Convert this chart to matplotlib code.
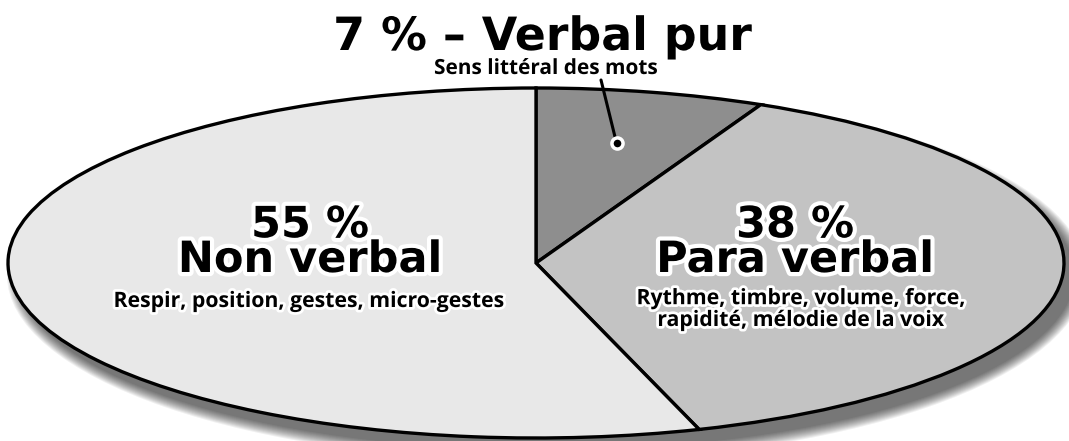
import matplotlib.pyplot as plt
import matplotlib.patheffects as pe
from matplotlib.patches import Ellipse
import numpy as np

W, H = 1069, 441

shares = [7, 38, 55]
colors = ['#8e8e8e', '#c3c3c3', '#e8e8e8']
pct_labels = ['7 %', '38 %', '55 %']
names = ['Verbal pur', 'Para verbal', 'Non verbal']
details = ['Sens littéral des mots',
           'Rythme, timbre, volume, force,\nrapidité, mélodie de la voix',
           'Respir, position, gestes, micro-gestes']

# ellipse box in pixels
cx, cy, rx, ry = 536, 263, 528, 175


def fx(px):
    return px / W


def fy(py):
    return 1 - py / H


fig = plt.figure(figsize=(W / 100, H / 100), dpi=100)
fig.patch.set_facecolor('white')
ax = fig.add_axes([fx(cx - rx), fy(cy + ry), 2 * rx / W, 2 * ry / H])

# soft drop shadow under the pie
for i in range(12):
    grow = 0.004 * i
    ax.add_patch(Ellipse((0.02, -0.07), 2 + grow, 2 + grow * 3,
                         facecolor='black', edgecolor='none', alpha=0.06,
                         zorder=0, clip_on=False))

wedges, _ = ax.pie(shares, colors=colors, startangle=90, counterclock=False,
                   radius=1, center=(0, 0), frame=True,
                   wedgeprops=dict(edgecolor='black', linewidth=2.4))
for w in wedges:
    w.set_zorder(2)
    w.set_clip_on(False)
ax.set_xlim(-1, 1)
ax.set_ylim(-1, 1)
ax.set_aspect('auto')
ax.axis('off')

halo = [pe.withStroke(linewidth=6, foreground='white')]
halo_s = [pe.withStroke(linewidth=4, foreground='white')]
big = dict(family='DejaVu Sans', weight='bold', color='black', ha='center',
           va='baseline', path_effects=halo)
small = dict(family='Open Sans', weight='bold', color='black', ha='center',
             va='baseline', path_effects=halo_s)

# top slice label, outside the pie
fig.text(fx(543), fy(50), f'{pct_labels[0]} \u2013 {names[0]}', fontsize=33, **big)
fig.text(fx(546), fy(74), details[0], fontsize=15, **small)

# leader line to the small slice
w0 = wedges[0]
mid = np.deg2rad((w0.theta1 + w0.theta2) / 2)
px, py = 0.7 * np.cos(mid), 0.7 * np.sin(mid)
ax.annotate('', xy=(px, py), xycoords='data',
            xytext=(fx(601), fy(80)), textcoords='figure fraction',
            arrowprops=dict(arrowstyle='-', color='black', lw=2.2,
                            shrinkA=0, shrinkB=0), zorder=3)
ax.plot([px], [py], 'o', color='black', markersize=8,
        markeredgecolor='white', markeredgewidth=2.5, zorder=4, clip_on=False)

# labels inside big slices
fig.text(fx(795), fy(272), f'{pct_labels[1]}\n{names[1]}', fontsize=31,
         linespacing=0.78, multialignment='center', **big)
fig.text(fx(801), fy(326), details[1], fontsize=15.3, linespacing=1.05,
         multialignment='center', **small)

fig.text(fx(310), fy(272), f'{pct_labels[2]}\n{names[2]}', fontsize=31,
         linespacing=0.78, multialignment='center', **big)
fig.text(fx(309), fy(307), details[2], fontsize=15.3, **small)

fig.savefig('out.png', dpi=100, facecolor='white')
